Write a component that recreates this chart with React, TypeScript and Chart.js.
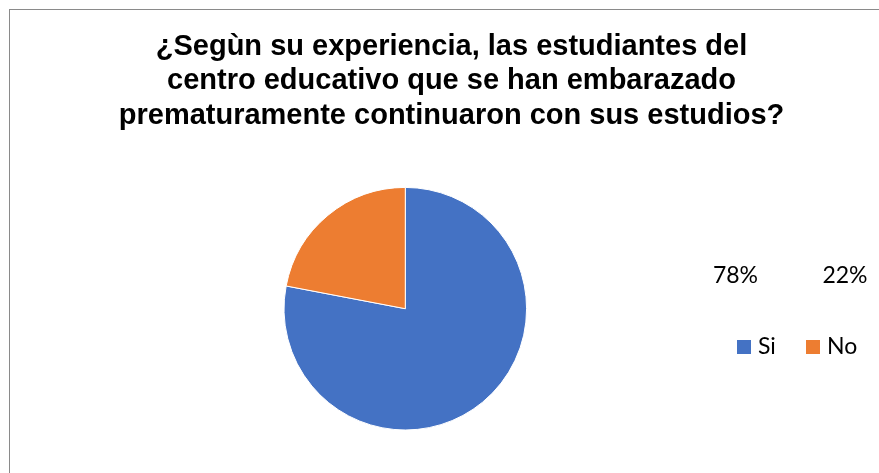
import React, { useEffect, useRef } from 'react';
import { Chart, registerables, layouts } from 'chart.js';

Chart.register(...registerables);

const categories = ['Si', 'No'];
const values = [78, 22];
const colors = ['#4472C4', '#ED7D31'];
const titleLines = [
  '¿Segùn su experiencia, las estudiantes del',
  'centro educativo que se han embarazado',
  'prematuramente continuaron con sus estudios?',
];

const SIDE_W = 92.4;
const LABEL_FONT = '23px Lato, "Open Sans", sans-serif';

const sidePlugin: any = {
  id: 'sideArea',
  beforeInit(chart: any) {
    const box: any = {
      position: 'right',
      weight: 0,
      fullSize: false,
      options: {},
      left: 0, top: 0, right: 0, bottom: 0, width: 0, height: 0,
      isHorizontal() { return false; },
      update(maxWidth: number, maxHeight: number) {
        this.width = SIDE_W;
        this.height = maxHeight;
      },
      draw() {},
    };
    layouts.addBox(chart, box);
  },
  afterDraw(chart: any) {
    const ctx = chart.ctx as CanvasRenderingContext2D;
    const total = values.reduce((a, b) => a + b, 0);
    ctx.save();
    ctx.font = LABEL_FONT;
    ctx.textBaseline = 'alphabetic';
    ctx.fillStyle = '#000';
    ctx.textAlign = 'center';
    const pctX = [735.5, 845];
    values.forEach((v, i) => {
      ctx.fillText(Math.round((v / total) * 100) + '%', pctX[i], 283);
    });
    const itemX = [737, 806];
    ctx.textAlign = 'left';
    categories.forEach((c, i) => {
      ctx.fillStyle = colors[i];
      ctx.fillRect(itemX[i], 340, 14, 14);
      ctx.fillStyle = '#000';
      ctx.fillText(c, itemX[i] + 21, 354);
    });
    ctx.restore();
  },
};

export default function App() {
  const ref = useRef<HTMLCanvasElement>(null);
  useEffect(() => {
    if (!ref.current) return;
    const chart = new Chart(ref.current, {
      type: 'pie',
      data: {
        labels: categories,
        datasets: [
          {
            data: values,
            backgroundColor: colors,
            borderColor: '#ffffff',
            borderWidth: 1,
          },
        ],
      },
      options: {
        responsive: false,
        animation: false,
        layout: { padding: { left: 24, right: 0, top: 0, bottom: 42.5 } },
        plugins: {
          legend: { display: false },
          tooltip: { enabled: false },
          title: {
            display: true,
            text: titleLines,
            color: '#000',
            font: { family: '"Liberation Sans", Arial, sans-serif', size: 29, weight: 'bold', lineHeight: 1.183 },
            padding: { top: 30, bottom: 54 },
          },
        },
      },
      plugins: [sidePlugin],
    });
    return () => chart.destroy();
  }, []);
  return (
    <div style={{ position: 'fixed', left: 0, top: 0, width: 879, height: 473, background: '#fff', overflow: 'hidden' }}>
      <div style={{ position: 'absolute', left: 9, top: 9, width: 900, height: 500, border: '1px solid #8a8a8a', boxSizing: 'border-box' }} />
      <canvas ref={ref} width={879} height={473} style={{ position: 'absolute', left: 0, top: 0 }} />
    </div>
  );
}
